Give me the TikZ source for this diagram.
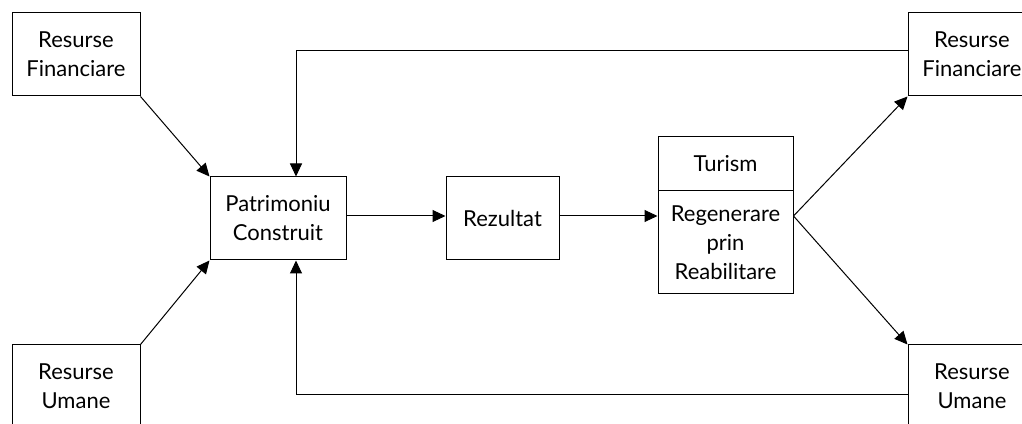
\documentclass[tikz,border=0pt]{standalone}
\usepackage{fontspec}
\setmainfont{Lato}
\usetikzlibrary{arrows.meta,calc}
\begin{document}
\begin{tikzpicture}[x=1pt,y=1pt,
  box/.style={draw,line width=1pt,inner sep=0pt,align=center,
    font=\fontsize{22}{29}\selectfont},
  conn/.style={line width=1pt},
  arr/.style={line width=1pt,-{Triangle[length=13pt,width=12pt]}}]
\clip (0,0) rectangle (1022,423);
\fill[white] (0,0) rectangle (1022,423);
\node[box,minimum width=128pt,minimum height=83pt] (lf) at (76,368.5) {Resurse\\Financiare};
\node[box,minimum width=128pt,minimum height=83pt] (lu) at (76,36.5) {Resurse\\Umane};
\node[box,minimum width=136pt,minimum height=83pt] (pc) at (278,204.5) {Patrimoniu\\Construit};
\node[box,minimum width=113pt,minimum height=83pt] (rz) at (502.5,204.5) {Rezultat};
\node[box,minimum width=135pt,minimum height=54pt] (tt) at (725.5,259) {Turism};
\node[box,minimum width=135pt,minimum height=103pt] (tb) at (725.5,180.5) {Regenerare\\prin\\Reabilitare};
\node[box,minimum width=128pt,minimum height=83pt] (rf) at (972,368.5) {Resurse\\Financiare};
\node[box,minimum width=128pt,minimum height=83pt] (ru) at (972,36.5) {Resurse\\Umane};
\coordinate (pa) at ($(pc.east)+(0,2.5)$);
\coordinate (fan) at (tb.east |- pa);
\coordinate (pcn) at ($(pc.north)+(18,0)$);
\coordinate (pcs) at ($(pc.south)+(18,0)$);
\coordinate (rfw) at ($(rf.west)+(0,3.5)$);
\coordinate (ruw) at ($(ru.west)+(0,-7.5)$);
\draw[arr] (lf.south east) -- (pc.north west);
\draw[arr] (lu.north east) -- (pc.south west);
\draw[arr] (pa) -- (pa -| rz.west);
\draw[arr] (pa -| rz.east) -- (fan -| tb.west);
\draw[arr] (fan) -- (rf.south west);
\draw[arr] (fan) -- (ru.north west);
\draw[arr] (rfw) -| (pcn);
\draw[arr] (ruw) -| (pcs);
\end{tikzpicture}
\end{document}
